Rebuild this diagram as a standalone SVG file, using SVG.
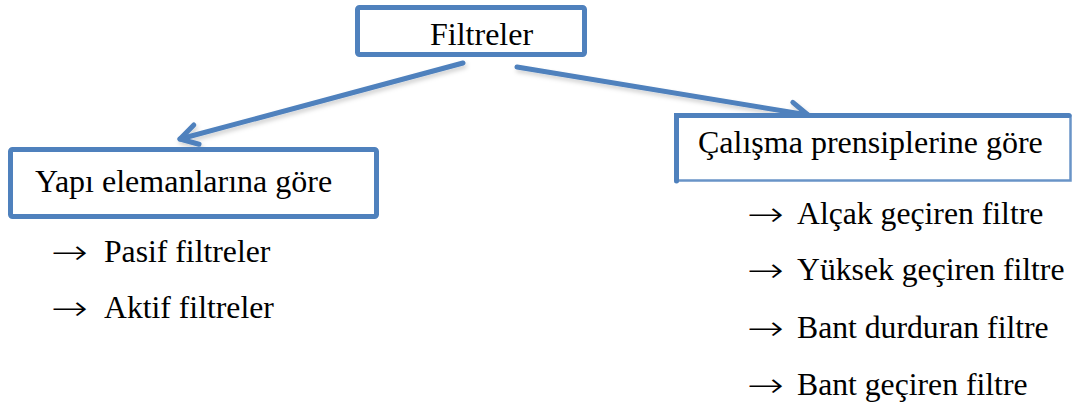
<svg xmlns="http://www.w3.org/2000/svg" width="1073" height="412" viewBox="0 0 1073 412">
  <style>
    .box { fill: #ffffff; stroke: #4f81bd; stroke-width: 5; }
    .edge { fill: none; stroke: #4f81bd; stroke-linecap: round; }
    .lbl { font-family: 'Liberation Serif', 'Times New Roman', serif; font-size: 32px; fill: #000000; }
    .item { font-family: 'Liberation Serif', 'Times New Roman', serif; font-size: 31.7px; fill: #000000; }
    .bullet { font-family: 'DejaVu Sans', sans-serif; font-weight: 200; font-size: 34px; fill: #000000; }
    .conn { fill: none; stroke: #4f81bd; stroke-width: 5; stroke-linecap: round; }
  </style>
  <defs>
    <marker id="chev" markerUnits="userSpaceOnUse" markerWidth="40" markerHeight="40" viewBox="-25 -20 40 40" refX="0" refY="0" orient="auto">
      <path d="M -17 -10 L 0 0 L -17 10" fill="none" stroke="#4f81bd" stroke-width="5" stroke-linecap="round" stroke-linejoin="round"/>
    </marker>
    <filter id="shadow" x="-10%" y="-30%" width="120%" height="160%">
      <feDropShadow dx="1.5" dy="3" stdDeviation="2" flood-color="#000000" flood-opacity="0.18"/>
    </filter>
  </defs>

  <!-- connectors from the root to the two category boxes -->
  <g id="connectors" filter="url(#shadow)">
    <path class="conn" d="M 463 63 L 180 139" marker-end="url(#chev)"/>
    <path class="conn" d="M 517 67 L 808 115" marker-end="url(#chev)"/>
  </g>

  <!-- root -->
  <g id="node-filtreler">
    <rect class="box" x="357.5" y="7.5" width="227" height="47" rx="2"/>
    <text class="lbl" x="430" y="45">Filtreler</text>
  </g>

  <!-- left category -->
  <g id="node-yapi">
    <rect class="box" x="10.5" y="149.5" width="366" height="67" rx="2"/>
    <text class="lbl" x="35" y="192">Yapı elemanlarına göre</text>
  </g>

  <!-- right category (right and bottom edges run off the sheet) -->
  <g id="node-calisma">
    <rect x="676" y="115.5" width="394" height="65" fill="#ffffff"/>
    <path class="edge" d="M 676.5 181 L 676.5 115.5 L 1069 115.5" stroke-width="5"/>
    <path class="edge" d="M 1070.5 115.5 L 1070.5 180.5 L 676.5 180.5" stroke-width="2.5" stroke-opacity="0.85"/>
    <text class="lbl" x="698" y="153">Çalışma prensiplerine göre</text>
  </g>

  <!-- list under the left category -->
  <g id="list-yapi">
    <text class="bullet" x="51" y="264" textLength="37" lengthAdjust="spacingAndGlyphs">→</text>
    <text class="item" x="104" y="262">Pasif filtreler</text>
    <text class="bullet" x="51" y="320" textLength="37" lengthAdjust="spacingAndGlyphs">→</text>
    <text class="item" x="104" y="318">Aktif filtreler</text>
  </g>

  <!-- list under the right category -->
  <g id="list-calisma">
    <text class="bullet" x="747" y="226" textLength="37" lengthAdjust="spacingAndGlyphs">→</text>
    <text class="item" x="797" y="224">Alçak geçiren filtre</text>
    <text class="bullet" x="747" y="282" textLength="37" lengthAdjust="spacingAndGlyphs">→</text>
    <text class="item" x="797" y="280">Yüksek geçiren filtre</text>
    <text class="bullet" x="747" y="340" textLength="37" lengthAdjust="spacingAndGlyphs">→</text>
    <text class="item" x="797" y="338">Bant durduran filtre</text>
    <text class="bullet" x="747" y="397" textLength="37" lengthAdjust="spacingAndGlyphs">→</text>
    <text class="item" x="797" y="395">Bant geçiren filtre</text>
  </g>
</svg>
